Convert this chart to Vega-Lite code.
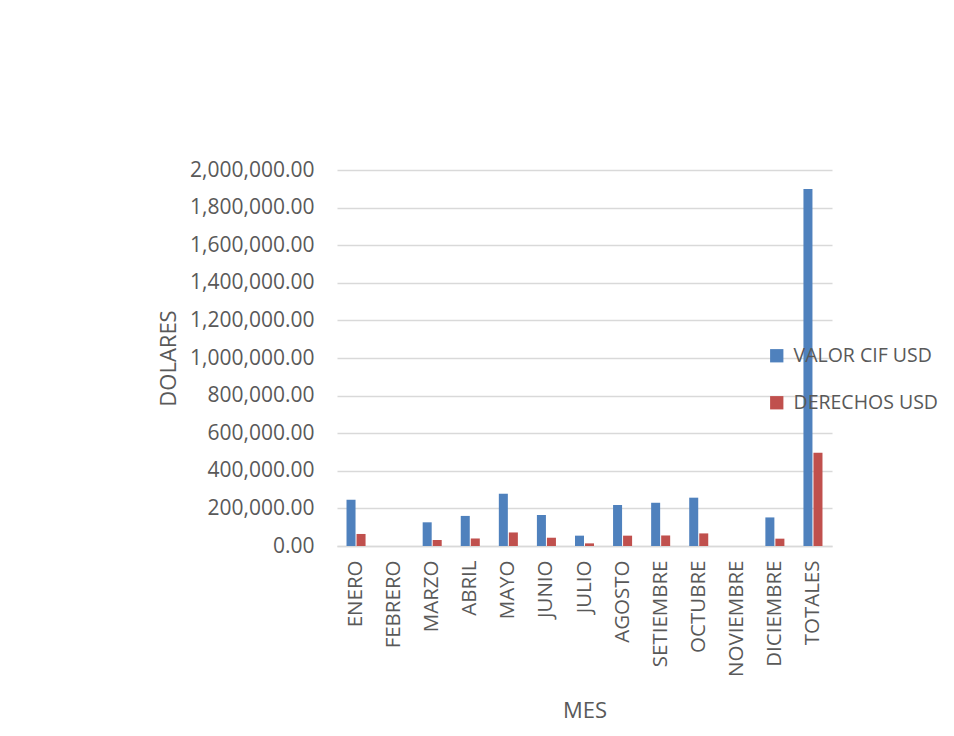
{
  "$schema": "https://vega.github.io/schema/vega-lite/v6.json",
  "autosize": {"type": "none"},
  "padding": {"left": 337, "top": 170, "right": 122, "bottom": 190},
  "width": 495,
  "height": 376,
  "background": "white",
  "config": {
    "font": "Open Sans",
    "view": {"stroke": null},
    "axis": {"labelColor": "#595959", "titleColor": "#595959", "labelFont": "Open Sans", "titleFont": "Open Sans", "titleFontWeight": "normal"},
    "legend": {"labelColor": "#595959", "labelFont": "Open Sans"}
  },
  "data": {
    "values": [
      {"mes": "ENERO", "serie": "VALOR CIF USD", "valor": 246000},
      {"mes": "ENERO", "serie": "DERECHOS USD", "valor": 64000},
      {"mes": "FEBRERO", "serie": "VALOR CIF USD", "valor": 0},
      {"mes": "FEBRERO", "serie": "DERECHOS USD", "valor": 0},
      {"mes": "MARZO", "serie": "VALOR CIF USD", "valor": 126000},
      {"mes": "MARZO", "serie": "DERECHOS USD", "valor": 32000},
      {"mes": "ABRIL", "serie": "VALOR CIF USD", "valor": 160000},
      {"mes": "ABRIL", "serie": "DERECHOS USD", "valor": 40000},
      {"mes": "MAYO", "serie": "VALOR CIF USD", "valor": 278000},
      {"mes": "MAYO", "serie": "DERECHOS USD", "valor": 72000},
      {"mes": "JUNIO", "serie": "VALOR CIF USD", "valor": 165000},
      {"mes": "JUNIO", "serie": "DERECHOS USD", "valor": 44000},
      {"mes": "JULIO", "serie": "VALOR CIF USD", "valor": 55000},
      {"mes": "JULIO", "serie": "DERECHOS USD", "valor": 14000},
      {"mes": "AGOSTO", "serie": "VALOR CIF USD", "valor": 218000},
      {"mes": "AGOSTO", "serie": "DERECHOS USD", "valor": 55000},
      {"mes": "SETIEMBRE", "serie": "VALOR CIF USD", "valor": 230000},
      {"mes": "SETIEMBRE", "serie": "DERECHOS USD", "valor": 56000},
      {"mes": "OCTUBRE", "serie": "VALOR CIF USD", "valor": 257000},
      {"mes": "OCTUBRE", "serie": "DERECHOS USD", "valor": 67000},
      {"mes": "NOVIEMBRE", "serie": "VALOR CIF USD", "valor": 0},
      {"mes": "NOVIEMBRE", "serie": "DERECHOS USD", "valor": 0},
      {"mes": "DICIEMBRE", "serie": "VALOR CIF USD", "valor": 152000},
      {"mes": "DICIEMBRE", "serie": "DERECHOS USD", "valor": 39000},
      {"mes": "TOTALES", "serie": "VALOR CIF USD", "valor": 1899000},
      {"mes": "TOTALES", "serie": "DERECHOS USD", "valor": 496000}
    ]
  },
  "mark": {"type": "bar"},
  "encoding": {
    "x": {
      "field": "mes", "type": "nominal", "sort": null,
      "scale": {"paddingInner": 0.5, "paddingOuter": 0.25},
      "axis": {
        "title": "MES", "titleFontSize": 22, "titleY": 171, "titleBaseline": "alphabetic",
        "labelAngle": -90, "labelFontSize": 20.5, "labelPadding": 14, "labelOverlap": false,
        "ticks": false, "domainColor": "#d9d9d9", "domainWidth": 1.3
      }
    },
    "xOffset": {"field": "serie", "type": "nominal", "sort": ["VALOR CIF USD", "DERECHOS USD"], "scale": {"paddingInner": 0.1}},
    "y": {
      "field": "valor", "type": "quantitative",
      "scale": {"domain": [0, 2000000]},
      "axis": {
        "title": "DOLARES", "titleFontSize": 22, "titleX": -162, "titleBaseline": "alphabetic",
        "format": ",.2f", "values": [0,200000,400000,600000,800000,1000000,1200000,1400000,1600000,1800000,2000000],
        "labelFontSize": 21, "labelPadding": 23, "labelOverlap": false, "ticks": false, "domain": false,
        "gridColor": "#d9d9d9", "gridWidth": 1.3
      }
    },
    "color": {
      "field": "serie", "type": "nominal",
      "scale": {"domain": ["VALOR CIF USD", "DERECHOS USD"], "range": ["#4F81BD", "#C0504D"]},
      "legend": {
        "title": null, "orient": "none", "legendX": 430, "legendY": 176,
        "symbolType": "square", "symbolSize": 177, "symbolStrokeWidth": 0,
        "labelFontSize": 19.5, "labelOffset": 7, "rowPadding": 26, "padding": 0
      }
    }
  }
}
